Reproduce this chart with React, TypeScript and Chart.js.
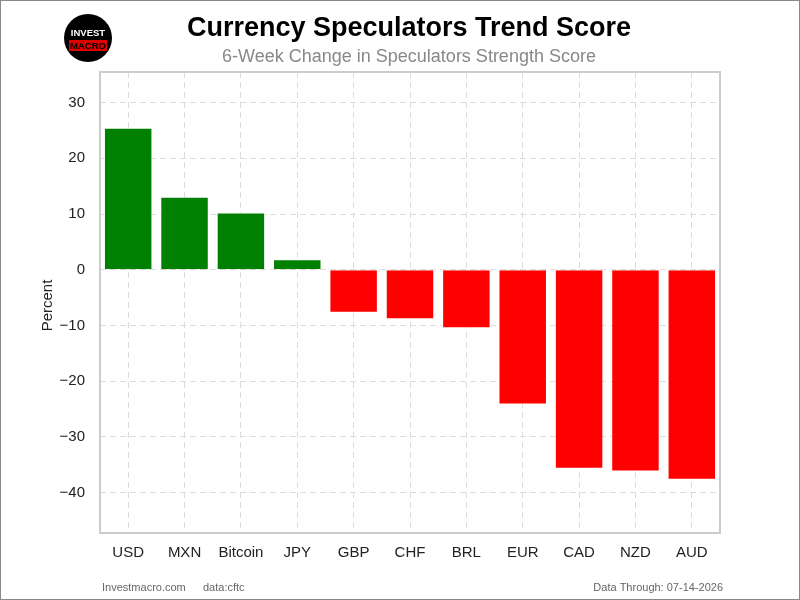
import React, { useEffect, useRef } from "react";
import { Chart, registerables } from "chart.js";

Chart.register(...registerables);

const categories = ["USD", "MXN", "Bitcoin", "JPY", "GBP", "CHF", "BRL", "EUR", "CAD", "NZD", "AUD"];
const values = [25.5, 13.1, 10.3, 1.9, -7.7, -8.9, -10.5, -24.2, -35.7, -36.2, -37.7];
const yTicks = [30, 20, 10, 0, -10, -20, -30, -40];
const titleText = "Currency Speculators Trend Score";
const subtitleText = "6-Week Change in Speculators Strength Score";
const yAxisLabel = "Percent";
const footerLeft = "Investmacro.com";
const footerSource = "data:cftc";
const footerRight = "Data Through: 07-14-2026";

const FONT = '"Liberation Sans", Arial, Helvetica, sans-serif';

const decorPlugin = {
  id: "decor",
  afterDatasetsDraw(chart: any) {
    const { ctx, chartArea } = chart;
    ctx.save();
    ctx.strokeStyle = "#cccccc";
    ctx.lineWidth = 2;
    ctx.strokeRect(chartArea.left, chartArea.top, chartArea.right - chartArea.left, chartArea.bottom - chartArea.top);
    ctx.restore();
  },
  afterDraw(chart: any) {
    const { ctx, chartArea } = chart;
    ctx.save();
    // title
    ctx.fillStyle = "#000";
    ctx.textAlign = "center";
    ctx.textBaseline = "middle";
    ctx.font = `bold 27px ${FONT}`;
    ctx.fillText(titleText, 409, 29);
    ctx.fillStyle = "#888888";
    ctx.font = `18px ${FONT}`;
    ctx.fillText(subtitleText, 409, 57);
    // y label
    ctx.save();
    ctx.translate(48, (chartArea.top + chartArea.bottom) / 2 + 3);
    ctx.rotate(-Math.PI / 2);
    ctx.fillStyle = "#222";
    ctx.font = `15px ${FONT}`;
    ctx.fillText(yAxisLabel, 0, 0);
    ctx.restore();
    // footer
    ctx.font = `11px ${FONT}`;
    ctx.fillStyle = "#666";
    ctx.textAlign = "left";
    ctx.fillText(footerLeft, 102, 588);
    ctx.fillText(footerSource, 203, 588);
    ctx.textAlign = "right";
    ctx.fillText(footerRight, 723, 588);
    // logo
    ctx.beginPath();
    ctx.arc(88, 38, 24, 0, Math.PI * 2);
    ctx.fillStyle = "#000";
    ctx.fill();
    ctx.fillStyle = "#e00000";
    ctx.fillRect(69, 40, 38, 11);
    ctx.textAlign = "center";
    ctx.font = `bold 9.5px ${FONT}`;
    ctx.fillStyle = "#fff";
    ctx.fillText("INVEST", 88, 33);
    ctx.fillStyle = "#000";
    ctx.fillText("MACRO", 88, 46);
    // outer border
    ctx.strokeStyle = "#888";
    ctx.lineWidth = 1;
    ctx.strokeRect(0.5, 0.5, 799, 599);
    ctx.restore();
  },
};

export default function App() {
  const ref = useRef<HTMLCanvasElement>(null);
  useEffect(() => {
    if (!ref.current) return;
    const chart = new Chart(ref.current, {
      type: "bar",
      data: {
        labels: categories,
        datasets: [
          {
            data: values,
            backgroundColor: values.map((v) => (v >= 0 ? "#008000" : "#ff0000")),
            borderColor: "rgba(255,255,255,0.8)",
            borderWidth: 1,
            barPercentage: 0.86,
            categoryPercentage: 1,
          },
        ],
      },
      options: {
        animation: false,
        responsive: false,
        layout: { padding: { left: 0, top: 72, right: 80, bottom: 0 } },
        plugins: { legend: { display: false }, tooltip: { enabled: false }, title: { display: false } },
        scales: {
          x: {
            offset: true,
            grid: { offset: false, color: "#dcdcdc", lineWidth: 1, drawTicks: false },
            border: { display: false, dash: [6, 4] },
            ticks: { color: "#222", font: { family: FONT, size: 15 }, padding: 11, maxRotation: 0, autoSkip: false },
            afterFit: (s: any) => {
              s.height = 67;
            },
          },
          y: {
            min: -47.25,
            max: 35.5,
            grid: { color: "#dcdcdc", lineWidth: 1, drawTicks: false },
            border: { display: false, dash: [6, 4] },
            afterBuildTicks: (s: any) => {
              s.ticks = yTicks.map((v) => ({ value: v }));
            },
            ticks: {
              includeBounds: false,
              color: "#222",
              padding: 15,
              font: { family: FONT, size: 15 },
              callback: (v: any) => (Number(v) < 0 ? "\u2212" + Math.abs(Number(v)) : String(v)),
            },
            afterFit: (s: any) => {
              s.width = 100;
            },
          },
        },
      },
      plugins: [decorPlugin],
    });
    return () => chart.destroy();
  }, []);
  return (
    <div style={{ position: "absolute", left: 0, top: 0, width: 800, height: 600, background: "#fff" }}>
      <canvas ref={ref} width={800} height={600} style={{ width: 800, height: 600, display: "block" }} />
    </div>
  );
}
